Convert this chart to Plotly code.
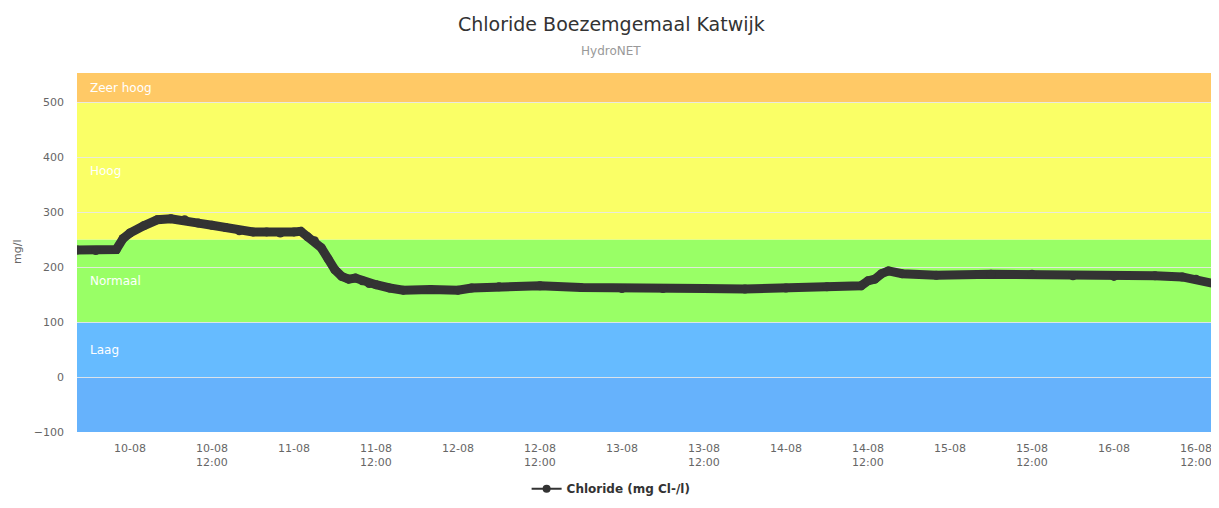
import plotly.graph_objects as go

times = [
    "2018-08-09 16:15", "2018-08-09 19:00", "2018-08-09 22:00", "2018-08-09 23:00",
    "2018-08-10 00:00", "2018-08-10 02:00", "2018-08-10 04:00", "2018-08-10 06:00",
    "2018-08-10 08:00", "2018-08-10 10:00", "2018-08-10 12:00", "2018-08-10 14:00",
    "2018-08-10 16:00", "2018-08-10 18:00", "2018-08-10 20:00", "2018-08-10 22:00",
    "2018-08-11 00:00", "2018-08-11 01:00", "2018-08-11 02:00", "2018-08-11 03:00",
    "2018-08-11 04:00", "2018-08-11 05:00", "2018-08-11 06:00", "2018-08-11 07:00",
    "2018-08-11 08:00", "2018-08-11 09:00", "2018-08-11 10:00", "2018-08-11 11:00",
    "2018-08-11 12:00", "2018-08-11 14:00", "2018-08-11 16:00", "2018-08-11 20:00",
    "2018-08-12 00:00", "2018-08-12 02:00", "2018-08-12 06:00", "2018-08-12 12:00",
    "2018-08-12 18:00", "2018-08-13 00:00", "2018-08-13 06:00", "2018-08-13 12:00",
    "2018-08-13 18:00", "2018-08-14 00:00", "2018-08-14 06:00", "2018-08-14 11:00",
    "2018-08-14 12:00", "2018-08-14 13:00", "2018-08-14 14:00", "2018-08-14 15:00",
    "2018-08-14 17:00", "2018-08-14 22:00", "2018-08-15 06:00", "2018-08-15 12:00",
    "2018-08-15 18:00", "2018-08-16 00:00", "2018-08-16 06:00", "2018-08-16 10:00",
    "2018-08-16 12:00", "2018-08-16 15:20",
]
chloride = [
    231, 230, 232, 252,
    262, 275, 286, 288,
    286, 280, 276, 272,
    266, 264, 264, 262,
    264, 265, 255, 248,
    235, 215, 195, 183,
    178, 180, 175, 170,
    168, 162, 158, 159,
    158, 162, 164, 166,
    163, 161, 161, 161,
    160, 162, 164, 166,
    175, 178, 188, 193,
    188, 185, 187, 187,
    184, 183, 184, 182,
    178, 168,
]

# threshold bands
band_names = ["", "Laag", "Normaal", "Hoog", "Zeer hoog"]
band_from = [-100, 0, 100, 250, 500]
band_to = [0, 100, 250, 500, 560]
band_colors = ["#66b2fc", "#66bbff", "#99ff66", "#faff66", "#ffc966"]

tick_vals = ["2018-08-10 00:00", "2018-08-10 12:00", "2018-08-11 00:00", "2018-08-11 12:00",
             "2018-08-12 00:00", "2018-08-12 12:00", "2018-08-13 00:00", "2018-08-13 12:00",
             "2018-08-14 00:00", "2018-08-14 12:00", "2018-08-15 00:00", "2018-08-15 12:00",
             "2018-08-16 00:00", "2018-08-16 12:00"]
tick_text = ["10-08", "10-08<br>12:00", "11-08", "11-08<br>12:00",
             "12-08", "12-08<br>12:00", "13-08", "13-08<br>12:00",
             "14-08", "14-08<br>12:00", "15-08", "15-08<br>12:00",
             "16-08", "16-08<br>12:00"]

fig = go.Figure()
fig.add_trace(go.Scatter(
    x=times, y=chloride, mode="lines+markers", showlegend=False,
    line=dict(color="#333333", width=9),
    marker=dict(color="#333333", size=9),
))
# legend entry with a thin line + dot, like the original
fig.add_trace(go.Scatter(
    x=[None], y=[None], mode="lines+markers", name="<b>Chloride (mg Cl-/l)</b>",
    line=dict(color="#333333", width=2), marker=dict(color="#333333", size=8),
))

for name, lo, hi, col in zip(band_names, band_from, band_to, band_colors):
    fig.add_shape(type="rect", xref="paper", yref="y", x0=0, x1=1, y0=lo, y1=hi,
                  fillcolor=col, line=dict(width=0), layer="below")
    if name:
        fig.add_annotation(xref="paper", yref="y", x=0.01, y=(lo + min(hi, 550)) / 2,
                           text=name, showarrow=False, xanchor="left",
                           font=dict(color="white", size=12))

# title, subtitle and y-axis title
fig.add_annotation(xref="paper", yref="paper", x=0.471, y=1, yshift=49, yanchor="middle",
                   text="Chloride Boezemgemaal Katwijk", showarrow=False,
                   font=dict(size=19, color="#333333"))
fig.add_annotation(xref="paper", yref="paper", x=0.471, y=1, yshift=22, yanchor="middle",
                   text="HydroNET", showarrow=False, font=dict(size=12, color="#999999"))
fig.add_annotation(xref="paper", yref="paper", x=0, xshift=-68, y=0.5, textangle=-90,
                   text="mg/l", showarrow=False, font=dict(size=11, color="#666666"))

fig.update_layout(
    width=1203, height=492,
    margin=dict(l=69, r=0, t=65, b=68, autoexpand=False),
    paper_bgcolor="white", plot_bgcolor="white",
    font=dict(family="DejaVu Sans", color="#666666", size=11),
    showlegend=True,
    legend=dict(orientation="h", x=0.471, xanchor="center", y=-0.158, yanchor="middle",
                font=dict(size=12, color="#333333")),
    xaxis=dict(range=["2018-08-09 16:15", "2018-08-16 14:12"], tickvals=tick_vals,
               ticktext=tick_text, showgrid=False, zeroline=False, showline=False,
               ticks="", ticklabelstandoff=8, ticklabeloverflow="allow", automargin=False,
               tickfont=dict(color="#666666", size=11)),
    yaxis=dict(range=[-100, 553], tickvals=[-100, 0, 100, 200, 300, 400, 500],
               gridcolor="rgba(232,232,232,0.9)", gridwidth=1, zeroline=False,
               showline=False, ticks="", ticklabelstandoff=12, automargin=False,
               tickfont=dict(color="#666666", size=11)),
)

fig.write_html("out.html")
